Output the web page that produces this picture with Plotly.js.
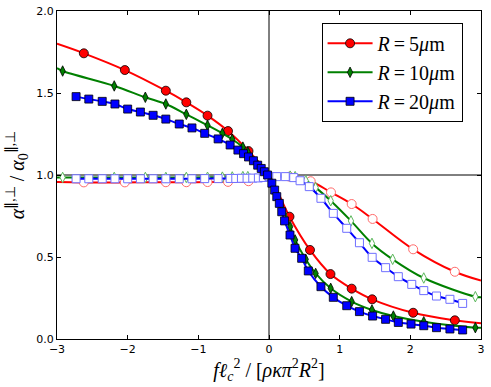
<!DOCTYPE html>
<html>
<head>
<meta charset="utf-8">
<script src="https://cdn.plot.ly/plotly-3.0.1.min.js"></script>
<style>
    body { margin: 0; background: #fff; }
    #chart { width: 491px; height: 387px; }
</style>
</head>
<body>
<div id="chart"></div>
<script>
// filled = parallel, open = perpendicular
let red5X = [-2.62, -2.04, -1.46, -1.17, -0.87, -0.58, -0.29, 0.29, 0.58, 0.87, 1.17, 1.46, 2.04, 2.63];
let red5Y = [1.742, 1.64, 1.514, 1.443, 1.362, 1.268, 1.146, 0.746, 0.543, 0.396, 0.307, 0.242, 0.16, 0.114];
let red5OpenX = [-2.62, -2.04, -1.46, -1.17, -0.87, -0.58, -0.29, 0.29, 0.59, 0.877, 1.17, 1.466, 2.04, 2.63];
let red5OpenY = [0.955, 0.955, 0.956, 0.956, 0.957, 0.958, 0.962, 0.99, 0.962, 0.894, 0.823, 0.732, 0.547, 0.41];
let red5CurveX = [-3, 0, 3];
let red5CurveY = [1.80, 1.0, 0.096];
let red5OpenCurveX = [-3, 0, 3];
let red5OpenCurveY = [0.957, 0.985, 0.356];

let green10X = [-2.92, -2.19, -1.75, -1.46, -1.17, -0.87, -0.66, -0.52, -0.37, -0.30, 0.30, 0.37, 0.52, 0.66, 0.873, 1.17, 1.457, 1.76, 2.19, 2.92];
let green10Y = [1.634, 1.543, 1.474, 1.433, 1.37, 1.303, 1.254, 1.218, 1.17, 1.14, 0.685, 0.604, 0.486, 0.40, 0.309, 0.228, 0.177, 0.14, 0.105, 0.069];
let green10OpenX = [-2.92, -2.19, -1.75, -1.46, -1.17, -0.87, -0.66, -0.52, -0.37, -0.30, 0.30, 0.37, 0.52, 0.66, 0.873, 1.16, 1.457, 1.75, 2.19, 2.92];
let green10OpenY = [0.985, 0.985, 0.985, 0.985, 0.985, 0.986, 0.987, 0.988, 0.99, 0.99, 0.993, 0.99, 0.965, 0.923, 0.843, 0.72, 0.583, 0.486, 0.372, 0.258];
let green10CurveX = [-3, 0, 3];
let green10CurveY = [1.652, 1.0, 0.068];
let green10OpenCurveX = [-3, 0, 3];
let green10OpenCurveY = [0.985, 0.995, 0.255];

let blue20X = [-2.73, -2.55, -2.36, -2.18, -2.0, -1.82, -1.64, -1.46, -1.27, -1.09, -0.91, -0.72, -0.55, -0.44, -0.36, -0.29, -0.22, -0.16, -0.11, -0.066, -0.02,
    0.04, 0.08, 0.11, 0.146, 0.18, 0.22, 0.297, 0.368, 0.462, 0.556, 0.735, 0.91, 1.10, 1.28, 1.466, 1.65, 1.83, 2.01, 2.19, 2.37, 2.56, 2.74];
let blue20Y = [1.478, 1.463, 1.449, 1.433, 1.402, 1.384, 1.364, 1.341, 1.311, 1.287, 1.254, 1.22, 1.183, 1.152, 1.13, 1.11, 1.087, 1.06, 1.04, 1.02, 1.0,
    0.95, 0.908, 0.868, 0.827, 0.776, 0.72, 0.634, 0.553, 0.492, 0.415, 0.319, 0.254, 0.203, 0.167, 0.14, 0.12, 0.101, 0.091, 0.081, 0.069, 0.061, 0.055];
let blue20OpenX = [-2.73, -2.55, -2.36, -2.18, -2.0, -1.82, -1.64, -1.46, -1.27, -1.09, -0.91, -0.72, -0.55, -0.47, -0.39, -0.31, -0.23, -0.15, -0.08, 0.0,
    0.11, 0.23, 0.35, 0.44, 0.57, 0.735, 0.91, 1.10, 1.28, 1.46, 1.65, 1.83, 2.02, 2.19, 2.37, 2.56, 2.74];
let blue20OpenY = [0.977, 0.977, 0.977, 0.977, 0.977, 0.977, 0.977, 0.977, 0.977, 0.977, 0.978, 0.978, 0.979, 0.979, 0.98, 0.98, 0.981, 0.982, 0.985, 0.99,
    0.99, 0.99, 0.984, 0.965, 0.929, 0.858, 0.766, 0.675, 0.587, 0.498, 0.435, 0.38, 0.333, 0.295, 0.262, 0.242, 0.217];

let legendNames = ["<i>R</i>\u2009=\u20095<i>μ</i>m", "<i>R</i>\u2009=\u200910<i>μ</i>m", "<i>R</i>\u2009=\u200920<i>μ</i>m"];

function mergeCurve(x, y, extraX, extraY) {
    let pts = [];
    for (let i = 0; i < x.length; i++) pts.push([x[i], y[i]]);
    for (let i = 0; i < extraX.length; i++) pts.push([extraX[i], extraY[i]]);
    pts.sort((a, b) => a[0] - b[0]);
    return { x: pts.map(p => p[0]), y: pts.map(p => p[1]) };
}

function curveTrace(c, color) {
    return {
        x: c.x, y: c.y, mode: "lines", type: "scatter",
        line: { color: color, width: 2, shape: "spline" },
        showlegend: false, hoverinfo: "skip"
    };
}

function markerTrace(x, y, symbol, size, fill, edge, edgeWidth) {
    return {
        x: x, y: y, mode: "markers", type: "scatter",
        marker: { symbol: symbol, size: size, color: fill, line: { color: edge, width: edgeWidth } },
        showlegend: false
    };
}

function legendTrace(name, color, symbol, size) {
    return {
        x: [null], y: [null], mode: "lines+markers", type: "scatter", name: name,
        line: { color: color, width: 2 },
        marker: { symbol: symbol, size: size, color: color, line: { color: "#000", width: 0.8 } }
    };
}

let red = "#ff0000", green = "#008000", blue = "#0000ff";

let data = [
    curveTrace(mergeCurve(red5OpenX, red5OpenY, red5OpenCurveX, red5OpenCurveY), red),
    markerTrace(red5OpenX, red5OpenY, "circle", 9, "#fff", "#ff6a6a", 1),
    curveTrace(mergeCurve(green10OpenX, green10OpenY, green10OpenCurveX, green10OpenCurveY), green),
    markerTrace(green10OpenX, green10OpenY, "diamond-tall", 7.5, "#fff", "#5cb85c", 1),
    curveTrace({ x: blue20OpenX, y: blue20OpenY }, blue),
    markerTrace(blue20OpenX, blue20OpenY, "square", 8, "#fff", "#6f6fff", 1),
    curveTrace(mergeCurve(red5X, red5Y, red5CurveX, red5CurveY), red),
    markerTrace(red5X, red5Y, "circle", 9, red, "#000", 0.8),
    curveTrace(mergeCurve(green10X, green10Y, green10CurveX, green10CurveY), green),
    markerTrace(green10X, green10Y, "diamond-tall", 7.5, green, "#000", 0.8),
    curveTrace({ x: blue20X, y: blue20Y }, blue),
    markerTrace(blue20X, blue20Y, "square", 8, blue, "#000", 0.8),
    legendTrace(legendNames[0], red, "circle", 9),
    legendTrace(legendNames[1], green, "diamond-tall", 7.5),
    legendTrace(legendNames[2], blue, "square", 8)
];

let axisStyle = {
    showgrid: false, zeroline: false, showline: true, linecolor: "#000", linewidth: 1,
    mirror: "ticks", ticks: "inside", ticklen: 4, tickcolor: "#000",
    tickfont: { family: "DejaVu Sans", size: 11, color: "#000" }
};

let layout = {
    width: 491, height: 387,
    margin: { l: 57, r: 10, t: 11, b: 48 },
    paper_bgcolor: "#fff", plot_bgcolor: "#fff",
    showlegend: true,
    legend: {
        x: 0.624, y: 0.964, xanchor: "left", yanchor: "top",
        bgcolor: "#fff", bordercolor: "#000", borderwidth: 1,
        font: { family: "Liberation Serif", size: 20, color: "#000" },
        itemwidth: 45
    },
    xaxis: Object.assign({}, axisStyle, {
        range: [-3, 3], tickvals: [-3, -2, -1, 0, 1, 2, 3],
        title: { text: "<i>fℓ</i><sub><i>c</i></sub><sup>2</sup> / [<i>ρκπ</i><sup>2</sup><i>R</i><sup>2</sup>]",
            font: { family: "Liberation Serif", size: 20, color: "#000" }, standoff: 4 }
    }),
    yaxis: Object.assign({}, axisStyle, {
        range: [0, 2], tickvals: [0, 0.5, 1, 1.5, 2], tickformat: ".1f",
        title: { text: "<i>α</i><sup>∥,⊥</sup> / <i>α</i><sub>0</sub><sup>∥,⊥</sup>",
            font: { family: "Liberation Serif", size: 20, color: "#000" }, standoff: 6 }
    }),
    shapes: [
        { type: "line", xref: "x", yref: "y", x0: 0, x1: 0, y0: 0, y1: 2, layer: "below", line: { color: "#000", width: 1 } },
        { type: "line", xref: "x", yref: "y", x0: -3, x1: 3, y0: 1, y1: 1, layer: "below", line: { color: "#000", width: 1 } }
    ]
};

Plotly.newPlot("chart", data, layout, { displayModeBar: false, staticPlot: true });
</script>
</body>
</html>
